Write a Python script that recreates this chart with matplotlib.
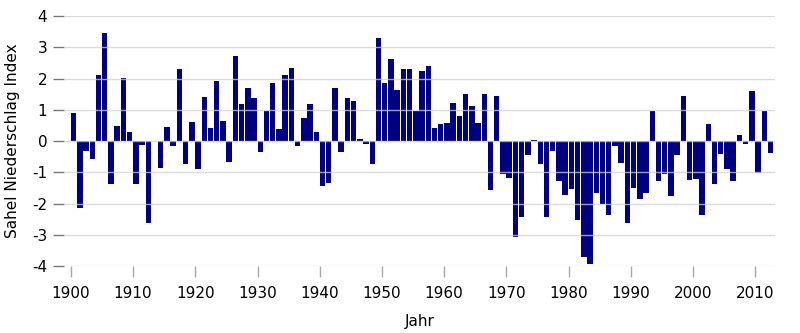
import numpy as np
import matplotlib
matplotlib.use("Agg")
import matplotlib.pyplot as plt

years = list(range(1900, 2013))
index = [
    0.91, -2.13, -0.33, -0.59, 2.12, 3.47, -1.36, 0.49, 2.03, 0.30,    # 1900s
    -1.36, -0.14, -2.61, 0.00, -0.85, 0.46, -0.17, 2.32, -0.75, 0.62,  # 1910s
    -0.88, 1.42, 0.43, 1.93, 0.65, -0.68, 2.73, 1.20, 1.71, 1.39,      # 1920s
    -0.36, 0.97, 1.87, 0.39, 2.12, 2.35, -0.17, 0.75, 1.20, 0.30,      # 1930s
    -1.45, -1.33, 1.71, -0.36, 1.39, 1.29, 0.07, -0.08, -0.72, 3.28,   # 1940s
    1.87, 2.63, 1.64, 2.29, 2.32, 0.97, 2.25, 2.41, 0.43, 0.55,        # 1950s
    0.59, 1.23, 0.81, 1.52, 1.13, 0.59, 1.52, -1.58, 1.45, -1.04,      # 1960s
    -1.17, -3.06, -2.42, -0.46, 0.04, -0.75, -2.42, -0.33, -1.29, -1.74,  # 1970s
    -1.52, -2.54, -3.70, -3.92, -1.65, -2.03, -2.38, -0.17, -0.69, -2.61,  # 1980s
    -1.49, -1.84, -1.65, 0.97, -1.29, -1.04, -1.77, -0.46, 1.45, -1.26,   # 1990s
    -1.23, -2.38, 0.55, -1.36, -0.43, -0.91, -1.29, 0.20, -0.11, 1.61,    # 2000s
    -1.01, 0.97, -0.38,                                                   # 2010s
]
xticks = list(range(1900, 2011, 10))
yticks = list(range(-4, 5))

plt.rcParams.update({"font.family": "DejaVu Sans"})
fig = plt.figure(figsize=(8.0, 3.33), dpi=100)
ax = fig.add_axes([0.08, 0.201, 0.889, 0.751])

ax.bar(years, index, width=0.88, align="edge", color="#000080", zorder=2)

# light horizontal grid drawn over the bars
for y in yticks:
    ax.axhline(y, color="#d0d0d0", lw=1.0, alpha=0.75, zorder=3)

ax.set_xlim(1898.9, 2013.2)
ax.set_ylim(-4, 4)
ax.set_xticks(xticks)
ax.set_yticks(yticks)
ax.set_yticklabels([str(v) for v in yticks])
for s in ax.spines.values():
    s.set_visible(False)
ax.tick_params(axis="y", length=8, width=1, color="#777777", labelsize=11, pad=4)
ax.tick_params(axis="x", length=8, width=1, color="#aaaaaa", labelsize=11, pad=6)

ax.set_xlabel("Jahr", fontsize=11, labelpad=10)
ax.set_ylabel("Sahel Niederschlag Index", fontsize=11, labelpad=9)

fig.savefig("out.png", dpi=100, facecolor="white")
